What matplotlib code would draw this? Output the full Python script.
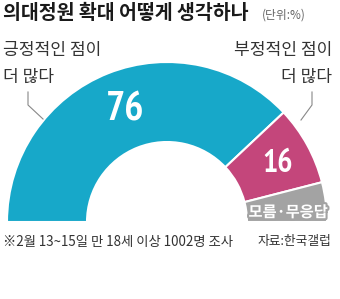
import matplotlib
matplotlib.use("Agg")
import matplotlib.pyplot as plt
import matplotlib.patheffects as pe
from matplotlib import font_manager
from matplotlib.font_manager import FontProperties
import numpy as np

plt.rcParams['font.family'] = ['Noto Sans CJK KR', 'DejaVu Sans']

# ---- data ----
categories = ["긍정적인 점이\n더 많다", "부정적인 점이\n더 많다", "모름·무응답"]
values = [76, 16, 8]
colors = ["#17a8c9", "#c4467b", "#a3a3a3"]
title = "의대정원 확대 어떻게 생각하나"
unit = "(단위:%)"
footnote = "※2월 13~15일 만 18세 이상 1002명 조사"
source = "자료:한국갤럽"

W, H = 340, 299
fig = plt.figure(figsize=(W / 100, H / 100), dpi=100)
ax = fig.add_axes([0, 0, 1, 1])

cx, cy = 167, H - 222
R, ring = 160, 80

# half donut: add an invisible remainder equal to total
total = sum(values)
wedges, _ = ax.pie(values + [total], colors=colors + ["none"], startangle=180,
                   counterclock=False, radius=R, center=(cx, cy),
                   wedgeprops=dict(width=ring, edgecolor="white", linewidth=1.5))
wedges[-1].set_edgecolor("none")
wedges[-1].set_facecolor("none")

ax.set_xlim(0, W)
ax.set_ylim(0, H)
ax.set_aspect("auto")
ax.axis("off")

# find a condensed bold font for the big numbers
def pick_num_font():
    cond = []
    for f in font_manager.fontManager.ttflist:
        name = f.name
        st = str(f.stretch)
        is_cond = ('ondensed' in st) or ('Narrow' in name) or ('Condensed' in name) or ('narrow' in st)
        w = f.weight if isinstance(f.weight, int) else {'bold': 700, 'normal': 400}.get(f.weight, 400)
        if is_cond and w >= 600:
            cond.append((0 if 'Narrow' in name else 1, f.fname))
    if cond:
        cond.sort()
        return FontProperties(fname=cond[0][1]), True
    return FontProperties(family='Noto Sans CJK KR', weight='bold'), False

num_fp, condensed = pick_num_font()

def mid(w):
    a = np.deg2rad((w.theta1 + w.theta2) / 2)
    r = R - ring / 2
    return cx + r * np.cos(a), cy + r * np.sin(a)

s76 = 29 if condensed else 26
s16 = 23 if condensed else 21
x0, y0 = mid(wedges[0])
ax.text(x0 + 2, y0, f"{values[0]}", color="white", fontproperties=num_fp, fontsize=s76,
        ha="center", va="center")
x1, y1 = mid(wedges[1])
ax.text(x1 + 5, y1, f"{values[1]}", color="white", fontproperties=num_fp, fontsize=s16,
        ha="center", va="center")

# gray label
ax.text(288, H - 212, categories[2], color="white", fontsize=11, fontweight="bold",
        ha="center", va="center",
        path_effects=[pe.withStroke(linewidth=3, foreground="#a3a3a3")])

# category labels
lab_c = "#333333"
fs_lab = 12.3
l0 = categories[0].split("\n")
l1 = categories[1].split("\n")
ax.text(3, H - 50, l0[0], color=lab_c, fontsize=fs_lab, ha="left", va="center")
ax.text(3, H - 77, l0[1], color=lab_c, fontsize=fs_lab, ha="left", va="center")
ax.text(332, H - 50, l1[0], color=lab_c, fontsize=fs_lab, ha="right", va="center")
ax.text(332, H - 77, l1[1], color=lab_c, fontsize=fs_lab, ha="right", va="center")

# leader lines
ax.plot([28, 28, 43], [H - 92, H - 105, H - 119], color="#888888", lw=0.8)
ax.plot([312, 312, 301], [H - 92, H - 105, H - 120], color="#888888", lw=0.8)

# title
ax.text(3, H - 13, title, color="#1a1a1a", fontsize=14, fontweight="heavy",
        ha="left", va="center")
ax.text(262, H - 15, unit, color="#666666", fontsize=8.5, ha="left", va="center")

# footnote
ax.text(3, H - 242, footnote, color="#333333", fontsize=9.6, ha="left", va="center")
ax.text(331, H - 242, source, color="#333333", fontsize=9.2, ha="right", va="center")

fig.savefig("out.png", dpi=100, facecolor="white")
